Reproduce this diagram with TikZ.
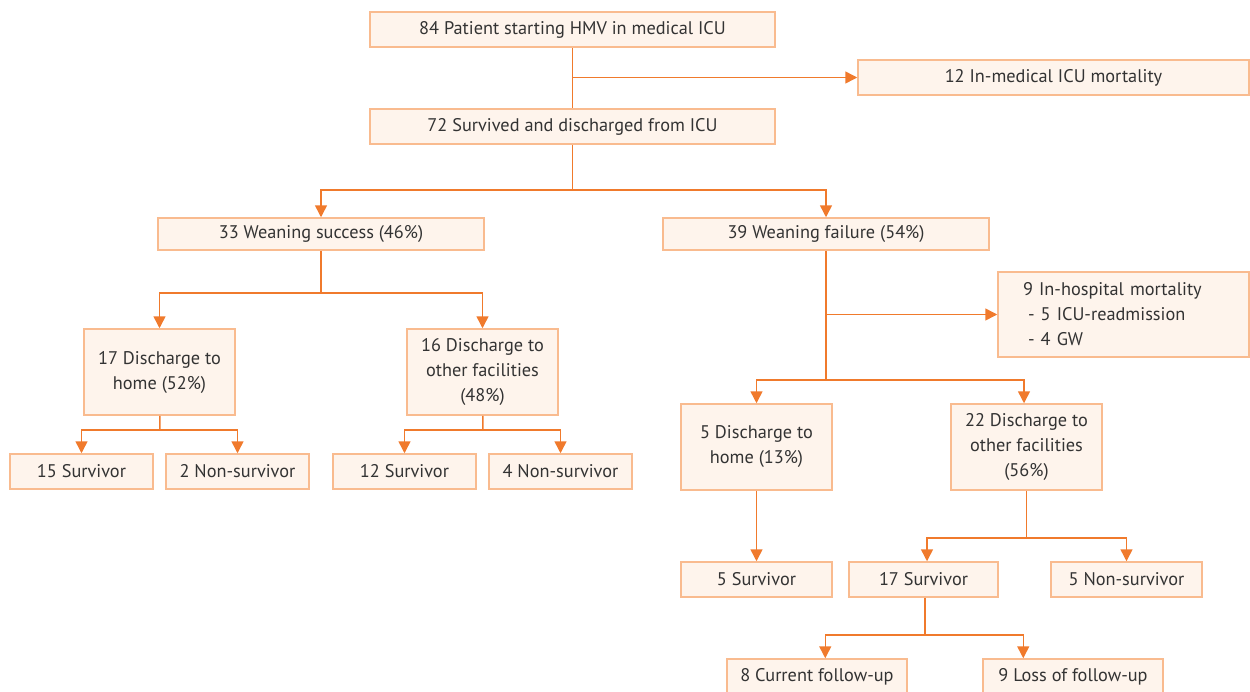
\documentclass[tikz,border=0pt]{standalone}
\usepackage{fontspec}
\setmainfont{PT Sans}
\usetikzlibrary{arrows.meta}
\definecolor{boxfill}{HTML}{FEF4EC}
\definecolor{boxline}{HTML}{F9BB8F}
\definecolor{flowline}{HTML}{F07A2C}
\definecolor{txt}{HTML}{333333}
\tikzset{
  box/.style={draw=boxline, fill=boxfill, line width=1.5pt, text=txt, inner sep=0pt,
    font=\fontsize{18.3}{25}\selectfont, align=center},
  flow/.style={draw=flowline, line width=1.5pt},
  tip/.style={flow, -{Triangle[width=12pt,length=12pt]}}
}
\begin{document}
\begin{tikzpicture}[x=1pt,y=1pt]
  \useasboundingbox (0,0) rectangle (1250,-691);
  % Boxes
  \node[box, minimum width=405, minimum height=35] (start) at (572.5,-29.5) {84 Patient starting HMV in medical ICU};
  \node[box, minimum width=391, minimum height=35] (icudead) at (1053.5,-77.5) {12 In-medical ICU mortality};
  \node[box, minimum width=405, minimum height=35] (survived) at (572.5,-126.5) {72 Survived and discharged from ICU};
  \node[box, minimum width=326, minimum height=32] (success) at (321,-234) {33 Weaning success (46\%)};
  \node[box, minimum width=326, minimum height=32] (failure) at (826,-234) {39 Weaning failure (54\%)};
  \node[box, minimum width=151, minimum height=86] (homeA) at (159.5,-372) {17 Discharge to\\home (52\%)};
  \node[box, minimum width=151, minimum height=86] (otherA) at (482.5,-372) {16 Discharge to\\other facilities\\(48\%)};
  \node[box, minimum width=143, minimum height=35] (survA) at (81.5,-471.5) {15 Survivor};
  \node[box, minimum width=143, minimum height=35] (nonA) at (237.5,-471.5) {2 Non-survivor};
  \node[box, minimum width=143, minimum height=35] (survB) at (404.5,-471.5) {12 Survivor};
  \node[box, minimum width=143, minimum height=35] (nonB) at (560.5,-471.5) {4 Non-survivor};
  \node[box, align=left, text width=201, inner xsep=25, minimum height=85] (hospdead) at (1123.5,-314.5)
    {9 In-hospital mortality\\\hspace{5pt}- 5 ICU-readmission\\\hspace{5pt}- 4 GW};
  \node[box, minimum width=151, minimum height=86] (homeB) at (756.5,-447) {5 Discharge to\\home (13\%)};
  \node[box, minimum width=151, minimum height=86] (otherB) at (1026.5,-447) {22 Discharge to\\other facilities\\(56\%)};
  \node[box, minimum width=151, minimum height=35] (survC) at (756.5,-579.5) {5 Survivor};
  \node[box, minimum width=149, minimum height=35] (survD) at (923.5,-579.5) {17 Survivor};
  \node[box, minimum width=151, minimum height=35] (nonD) at (1126.5,-579.5) {5 Non-survivor};
  \node[box, minimum width=180, minimum height=35] (current) at (817,-676.5) {8 Current follow-up};
  \node[box, minimum width=180, minimum height=35] (lost) at (1073,-676.5) {9 Loss of follow-up};

  % Branch points
  \coordinate (b1) at (572.5,-190);
  \coordinate (b2) at (321,-293);
  \coordinate (b3) at (160,-430);
  \coordinate (b4) at (483,-430);
  \coordinate (b5) at (826,-380);
  \coordinate (b6) at (1026.5,-538);
  \coordinate (b7) at (925,-635);

  % Connectors
  \draw[flow] (start) -- (survived);
  \draw[tip] (start.south |- icudead.west) -- (icudead.west);
  \draw[flow] (survived) -- (b1);
  \draw[tip] (b1) -| (success.north);
  \draw[tip] (b1) -| (failure.north);
  \draw[flow] (success) -- (b2);
  \draw[tip] (b2) -| (homeA.north);
  \draw[tip] (b2) -| (otherA.north);
  \draw[flow] (homeA) -- (b3);
  \draw[tip] (b3) -| (survA.north);
  \draw[tip] (b3) -| (nonA.north);
  \draw[flow] (otherA) -- (b4);
  \draw[tip] (b4) -| (survB.north);
  \draw[tip] (b4) -| (nonB.north);
  \draw[flow] (failure) -- (b5);
  \draw[tip] (failure.south |- hospdead.west) -- (hospdead.west);
  \draw[tip] (b5) -| (homeB.north);
  \draw[tip] (b5) -| ([xshift=-2.5pt]otherB.north);
  \draw[tip] (homeB) -- (survC);
  \draw[flow] (otherB) -- (b6);
  \draw[tip] (b6) -| ([xshift=3.5pt]survD.north);
  \draw[tip] (b6) -| (nonD.north);
  \draw[flow] (survD.south -| b7) -- (b7);
  \draw[tip] (b7) -| ([xshift=99pt]current.north west);
  \draw[tip] (b7) -| ([xshift=41pt]lost.north west);
\end{tikzpicture}
\end{document}
